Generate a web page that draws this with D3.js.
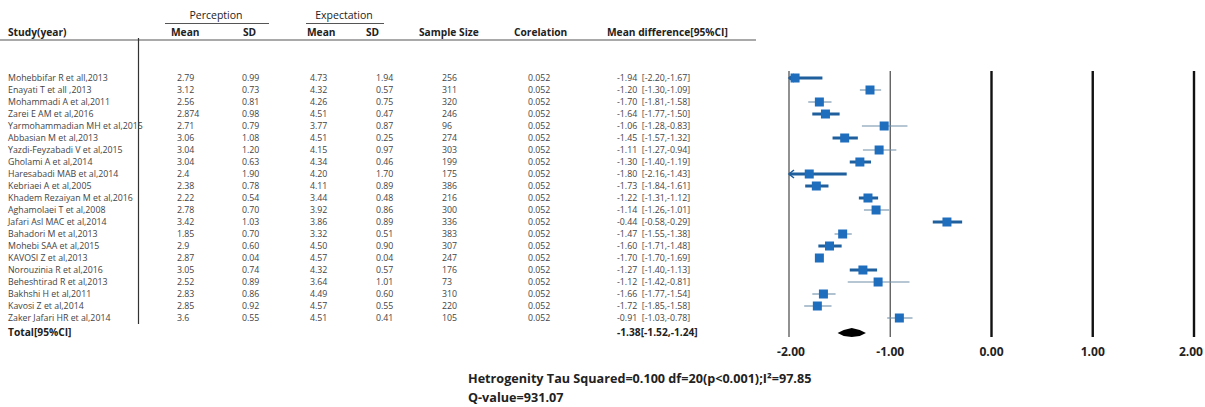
<!DOCTYPE html>
<html>
<head>
<meta charset="utf-8">
<script src="https://cdn.jsdelivr.net/npm/d3@7"></script>
<style>
  html, body { margin: 0; padding: 0; background: #fff; }
  svg { display: block; font-family: "Open Sans", "Noto Sans", sans-serif; }
</style>
</head>
<body>
<svg id="chart" width="1205" height="407"></svg>
<script>
const studies = [
  "Mohebbifar R et all,2013", "Enayati T et all ,2013", "Mohammadi A et al,2011",
  "Zarei E AM et al,2016", "Yarmohammadian MH et al,2015", "Abbasian M et al,2013",
  "Yazdi-Feyzabadi V et al,2015", "Gholami A et al,2014", "Haresabadi MAB et al,2014",
  "Kebriaei A et al,2005", "Khadem Rezaiyan M et al,2016", "Aghamolaei T et al,2008",
  "Jafari Asl MAC et al,2014", "Bahadori M et al,2013", "Mohebi SAA et al,2015",
  "KAVOSI Z et al,2013", "Norouzinia R et al,2016", "Beheshtirad R et al,2013",
  "Bakhshi H et al,2011", "Kavosi Z et al,2014", "Zaker Jafari HR et al,2014"
];
const percMean = ["2.79","3.12","2.56","2.874","2.71","3.06","3.04","3.04","2.4","2.38","2.22",
                  "2.78","3.42","1.85","2.9","2.87","3.05","2.52","2.83","2.85","3.6"];
const percSD = ["0.99","0.73","0.81","0.98","0.79","1.08","1.20","0.63","1.90","0.78","0.54",
                "0.70","1.03","0.70","0.60","0.04","0.74","0.89","0.86","0.92","0.55"];
const expMean = ["4.73","4.32","4.26","4.51","3.77","4.51","4.15","4.34","4.20","4.11","3.44",
                 "3.92","3.86","3.32","4.50","4.57","4.32","3.64","4.49","4.57","4.51"];
const expSD = ["1.94","0.57","0.75","0.47","0.87","0.25","0.97","0.46","1.70","0.89","0.48",
               "0.86","0.89","0.51","0.90","0.04","0.57","1.01","0.60","0.55","0.41"];
const sampleSize = [256,311,320,246,96,274,303,199,175,386,216,300,336,383,307,247,176,73,310,220,105];
const correlation = Array(21).fill("0.052");
const meanDiff = [-1.94,-1.20,-1.70,-1.64,-1.06,-1.45,-1.11,-1.30,-1.80,-1.73,-1.22,
                  -1.14,-0.44,-1.47,-1.60,-1.70,-1.27,-1.12,-1.66,-1.72,-0.91];
const ciLow = [-2.20,-1.30,-1.81,-1.77,-1.28,-1.57,-1.27,-1.40,-2.16,-1.84,-1.31,
               -1.26,-0.58,-1.55,-1.71,-1.70,-1.40,-1.42,-1.77,-1.85,-1.03];
const ciHigh = [-1.67,-1.09,-1.58,-1.50,-0.83,-1.32,-0.94,-1.19,-1.43,-1.61,-1.12,
                -1.01,-0.29,-1.38,-1.48,-1.69,-1.13,-0.81,-1.54,-1.58,-0.78];
// whiskers that are drawn bold in the picture
const boldCI = [1,0,0,1,0,1,0,1,1,1,1,0,1,0,1,0,1,0,0,0,0];
const total = { md: -1.38, lo: -1.52, hi: -1.24 };
const ticks = [-2, -1, 0, 1, 2];
const footer1 = "Hetrogenity Tau Squared=0.100 df=20(p<0.001);I²=97.85";
const footer2 = "Q-value=931.07";

const svg = d3.select("#chart");
const f2 = d3.format(".2f");
const fmt = v => v < 0 ? "-" + f2(-v) : f2(v);

// font size that gives a text the width it has in the reference
const fitSize = (str, width, weight) => {
  const t = svg.append("text").attr("font-size", 10).attr("font-weight", weight).text(str);
  const w = t.node().getComputedTextLength();
  t.remove();
  return 10 * width / w;
};
const rowSize = fitSize(studies[0], 100, "normal");
const headSize = fitSize("Mean difference[95%CI]", 121, "bold");
const footSize = fitSize(footer1, 344, "bold");
const tickSize = fitSize("-1.00", 28, "bold");

const x = d3.scaleLinear().domain([-2, 2]).range([789, 1194]);
const y = d3.scalePoint().domain(d3.range(studies.length)).range([78, 318]);
const totalY = 332;

// ---- table headers ----
const head = svg.append("g").attr("fill", "#222");
head.append("text").attr("x", 216).attr("y", 19).attr("text-anchor", "middle")
  .attr("font-size", headSize * 1.03).text("Perception");
head.append("text").attr("x", 344).attr("y", 19).attr("text-anchor", "middle")
  .attr("font-size", headSize * 1.03).text("Expectation");
head.append("line").attr("x1", 165).attr("x2", 269).attr("y1", 23.5).attr("y2", 23.5)
  .attr("stroke", "#555").attr("stroke-width", 1);
head.append("line").attr("x1", 306).attr("x2", 384).attr("y1", 23.5).attr("y2", 23.5)
  .attr("stroke", "#555").attr("stroke-width", 1);

const cols = [
  { x: 8, label: "Study(year)" }, { x: 171, label: "Mean" }, { x: 243, label: "SD" },
  { x: 307, label: "Mean" }, { x: 366, label: "SD" }, { x: 419, label: "Sample Size" },
  { x: 514, label: "Corelation" }, { x: 607, label: "Mean difference[95%CI]" }
];
head.selectAll("text.col").data(cols).join("text").attr("class", "col")
  .attr("x", d => d.x).attr("y", 36).attr("font-size", headSize).attr("font-weight", "bold")
  .text(d => d.label);
head.append("line").attr("x1", 0).attr("x2", 756).attr("y1", 40).attr("y2", 40)
  .attr("stroke", "#555").attr("stroke-width", 1.2);
svg.append("line").attr("x1", 138.5).attr("x2", 138.5).attr("y1", 38).attr("y2", 324)
  .attr("stroke", "#333").attr("stroke-width", 1.2);

// ---- table rows ----
const rowCols = [
  { x: 8, v: i => studies[i] }, { x: 177, v: i => percMean[i] }, { x: 242, v: i => percSD[i] },
  { x: 310, v: i => expMean[i] }, { x: 376, v: i => expSD[i] }, { x: 442, v: i => sampleSize[i] },
  { x: 528, v: i => correlation[i] },
  { x: 617, v: i => fmt(meanDiff[i]) + "  [" + fmt(ciLow[i]) + "," + fmt(ciHigh[i]) + "]" }
];
const rows = svg.append("g").attr("fill", "#444").attr("font-size", rowSize);
studies.forEach((s, i) => {
  rows.selectAll(null).data(rowCols).join("text")
    .attr("x", c => c.x).attr("y", y(i) + 3)
    .attr("xml:space", "preserve")
    .text(c => c.v(i));
});
svg.append("text").attr("x", 8).attr("y", totalY + 3.5).attr("font-size", headSize)
  .attr("font-weight", "bold").attr("fill", "#222").text("Total[95%CI]");
svg.append("text").attr("x", 617).attr("y", totalY + 3.5).attr("font-size", headSize)
  .attr("font-weight", "bold").attr("fill", "#222")
  .text(fmt(total.md) + "[" + fmt(total.lo) + "," + fmt(total.hi) + "]");

// ---- forest plot ----
const plot = svg.append("g");
plot.selectAll("line.ref").data(ticks).join("line").attr("class", "ref")
  .attr("x1", d => x(d)).attr("x2", d => x(d)).attr("y1", 71).attr("y2", 337)
  .attr("stroke", d => d < 0 ? "#555" : "#111")
  .attr("stroke-width", d => d < 0 ? 1.3 : 2.4);
plot.selectAll("text.tick").data(ticks).join("text").attr("class", "tick")
  .attr("x", d => x(d)).attr("y", 356).attr("text-anchor", "middle")
  .attr("font-size", tickSize).attr("font-weight", "bold").attr("fill", "#222")
  .text(d => fmt(d))
  .each(function (d) {
    // keep labels inside the picture, as the reference does at both ends
    const w = this.getComputedTextLength();
    const cx = Math.min(Math.max(x(d), 777 + w / 2), 1203 - w / 2);
    d3.select(this).attr("x", cx);
  });

const xc = v => x(Math.max(-2, Math.min(2, v)));
const idx = d3.range(studies.length);
plot.selectAll("line.ci").data(idx).join("line").attr("class", "ci")
  .attr("x1", i => xc(ciLow[i])).attr("x2", i => xc(ciHigh[i]))
  .attr("y1", i => y(i)).attr("y2", i => y(i))
  .attr("stroke", i => boldCI[i] ? "#1f5f9e" : "#6f8fa8")
  .attr("stroke-width", i => boldCI[i] ? 3 : 1.1);
// arrows where the interval leaves the plotted range
plot.selectAll("path.arrow").data(idx.filter(i => ciLow[i] < -2)).join("path")
  .attr("class", "arrow")
  .attr("d", i => `M${x(-2) + 5},${y(i) - 4}L${x(-2)},${y(i)}L${x(-2) + 5},${y(i) + 4}`)
  .attr("fill", "none").attr("stroke", "#1f5f9e").attr("stroke-width", 1.6);
plot.selectAll("rect.pt").data(idx).join("rect").attr("class", "pt")
  .attr("x", i => x(meanDiff[i]) - 4.5).attr("y", i => y(i) - 4.5)
  .attr("width", 9).attr("height", 9).attr("fill", "#1f6ebd");

const dx = x(total.md);
plot.append("path")
  .attr("d", `M${x(total.lo)},${totalY + 1}L${dx - 8},${totalY - 2}L${dx},${totalY - 4}` +
             `L${dx + 8},${totalY - 2}L${x(total.hi)},${totalY + 1}L${dx + 8},${totalY + 4}` +
             `L${dx},${totalY + 5}L${dx - 8},${totalY + 4}Z`)
  .attr("fill", "#000");

// ---- heterogeneity footer ----
svg.append("text").attr("x", 468).attr("y", 383).attr("font-size", footSize)
  .attr("font-weight", "bold").attr("fill", "#222").text(footer1);
svg.append("text").attr("x", 468).attr("y", 402).attr("font-size", footSize)
  .attr("font-weight", "bold").attr("fill", "#222").text(footer2);
</script>
</body>
</html>
